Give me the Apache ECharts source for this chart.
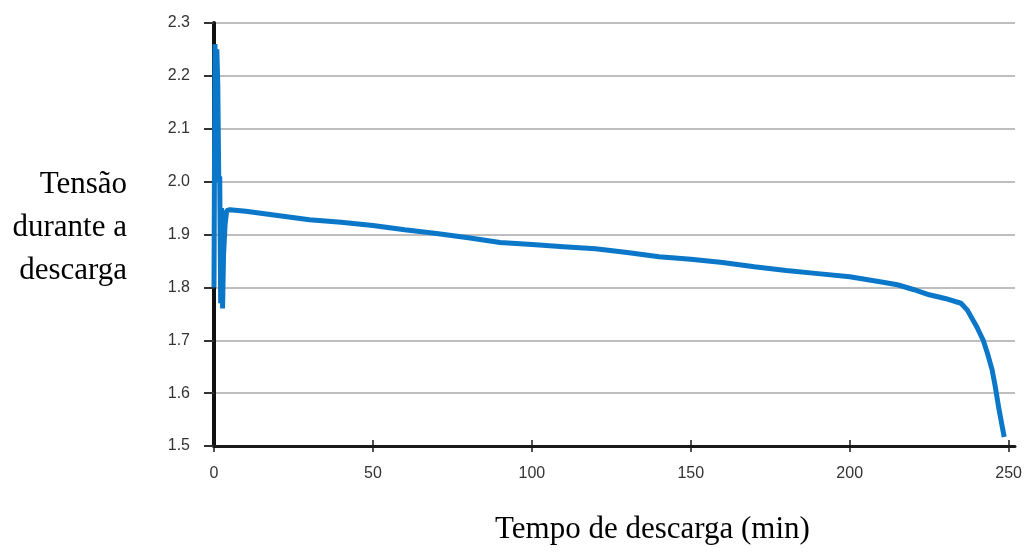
<!DOCTYPE html>
<html>
<head>
<meta charset="utf-8">
<script src="https://cdn.jsdelivr.net/npm/echarts@6/dist/echarts.min.js"></script>
<style>
html,body{margin:0;padding:0;background:#fff;}
#chart{width:1025px;height:557px;}
</style>
</head>
<body>
<div id="chart"></div>
<script>
// Discharge time (min) and voltage during discharge (V)
const timeMin = [0, 0.3, 0.6, 0.9, 1.2, 1.5, 1.8, 2.1, 2.4, 2.7, 3.0, 3.5, 4, 5, 10, 20, 30, 40, 50, 60, 70, 80, 90, 100, 110, 120, 130, 140, 150, 160, 170, 180, 190, 200, 210, 215, 220, 225, 230, 235, 237, 240, 242, 243.3, 244.8, 245.8, 247, 248.6];
const voltage = [1.80, 2.26, 2.15, 2.25, 2.18, 2.00, 2.01, 1.77, 1.95, 1.76, 1.86, 1.92, 1.945, 1.947, 1.944, 1.936, 1.928, 1.923, 1.917, 1.909, 1.902, 1.894, 1.885, 1.881, 1.877, 1.873, 1.866, 1.858, 1.853, 1.847, 1.839, 1.832, 1.826, 1.820, 1.810, 1.805, 1.796, 1.786, 1.779, 1.770, 1.757, 1.725, 1.700, 1.676, 1.644, 1.612, 1.568, 1.517];
const xTicks = [0, 50, 100, 150, 200, 250];
const yTitleLines = ['Tensão', 'durante a', 'descarga'];
const xTitle = 'Tempo de descarga (min)';

const chart = echarts.init(document.getElementById('chart'), null, {renderer: 'canvas'});
const seriesData = timeMin.map((t, i) => [t, voltage[i]]);
const labelFont = {fontFamily: 'Liberation Sans, Arial, sans-serif', fontSize: 16, color: '#333'};

chart.setOption({
  animation: false,
  backgroundColor: '#fff',
  grid: {left: 214, right: 7, top: 23, bottom: 111, containLabel: false},
  xAxis: [{
    type: 'value', min: 0, max: 252, interval: 50,
    axisLine: {show: true, onZero: false, lineStyle: {color: '#1a1a1a', width: 3}},
    axisTick: {show: true, inside: false, length: 6, customValues: xTicks, lineStyle: {color: '#1a1a1a', width: 1.5}},
    axisLabel: Object.assign({margin: 20, customValues: xTicks}, labelFont),
    splitLine: {show: false}
  }, {
    type: 'value', min: 0, max: 252, interval: 50, position: 'bottom', gridIndex: 0,
    axisLine: {show: false},
    axisTick: {show: true, inside: true, length: 6, customValues: xTicks, lineStyle: {color: '#1a1a1a', width: 1.5}},
    axisLabel: {show: false},
    splitLine: {show: false}
  }],
  yAxis: {
    type: 'value', min: 1.5, max: 2.3, interval: 0.1,
    axisLine: {show: true, onZero: false, lineStyle: {color: '#111', width: 4}},
    axisTick: {show: true, inside: false, length: 10, lineStyle: {color: '#333', width: 2}},
    axisLabel: Object.assign({margin: 24, formatter: v => v.toFixed(1)}, labelFont),
    splitLine: {show: true, lineStyle: {color: '#a8a8a8', width: 1.5}}
  },
  series: [{
    type: 'line',
    data: seriesData,
    showSymbol: false,
    smooth: false,
    lineStyle: {color: '#0b77c9', width: 5},
    z: 5
  }],
  graphic: [{
    type: 'text', right: 1025 - 127, top: 163,
    style: {text: yTitleLines.join('\n'), textAlign: 'right', fontFamily: 'Liberation Serif, Times New Roman, serif', fontSize: 31, lineHeight: 43, fill: '#000'}
  }, {
    type: 'text', left: 653 - 158, top: 514,
    style: {text: xTitle, fontFamily: 'Liberation Serif, Times New Roman, serif', fontSize: 31, fill: '#000'}
  }]
});
</script>
</body>
</html>
